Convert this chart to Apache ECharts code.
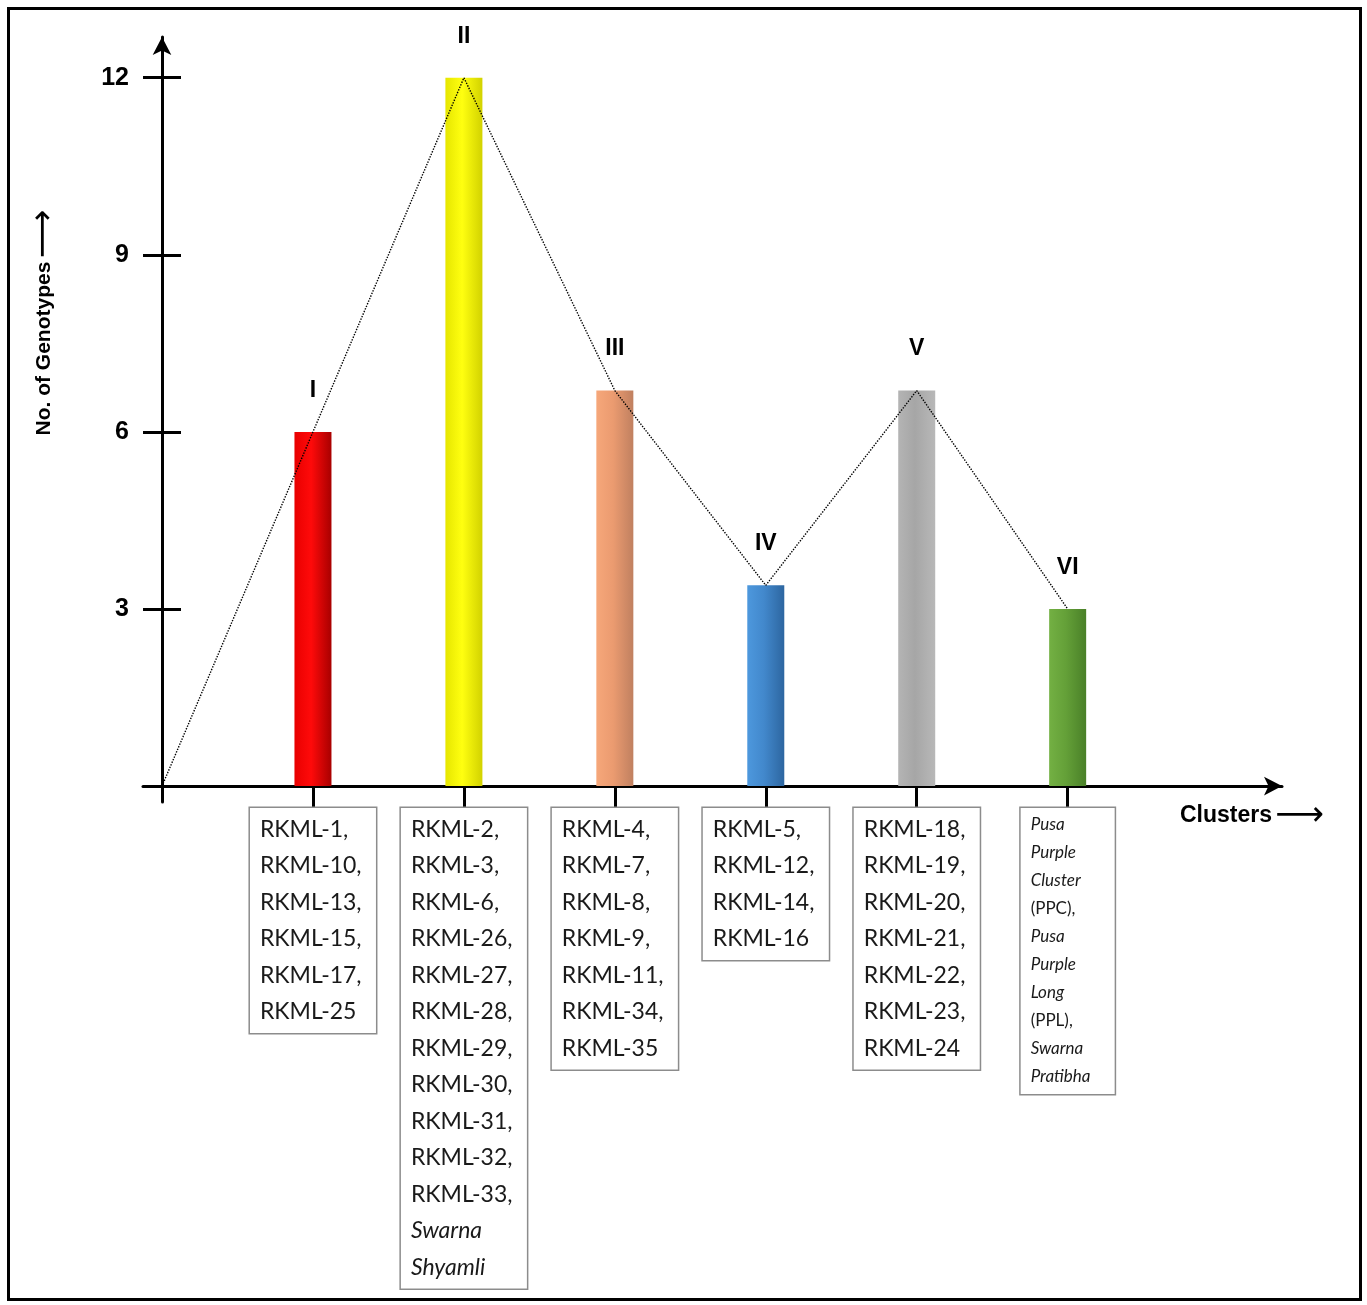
<!DOCTYPE html>
<html>
<head>
<meta charset="utf-8">
<script src="https://cdn.jsdelivr.net/npm/echarts@6/dist/echarts.min.js"></script>
<style>
  html, body { margin: 0; padding: 0; background: #fff; }
  #main { width: 1367px; height: 1305px; }
</style>
</head>
<body>
<div id="main"></div>
<script>
// clusters and number of genotypes in each
var clusters = ['I', 'II', 'III', 'IV', 'V', 'VI'];
var genotypes = [6, 12, 6.7, 3.4, 6.7, 3];
var yTicks = [3, 6, 9, 12];

// members listed under each cluster (one entry per printed line)
var membersI = ['RKML-1,', 'RKML-10,', 'RKML-13,', 'RKML-15,', 'RKML-17,', 'RKML-25'];
var membersII = ['RKML-2,', 'RKML-3,', 'RKML-6,', 'RKML-26,', 'RKML-27,', 'RKML-28,', 'RKML-29,',
  'RKML-30,', 'RKML-31,', 'RKML-32,', 'RKML-33,', 'Swarna', 'Shyamli'];
var membersIII = ['RKML-4,', 'RKML-7,', 'RKML-8,', 'RKML-9,', 'RKML-11,', 'RKML-34,', 'RKML-35'];
var membersIV = ['RKML-5,', 'RKML-12,', 'RKML-14,', 'RKML-16'];
var membersV = ['RKML-18,', 'RKML-19,', 'RKML-20,', 'RKML-21,', 'RKML-22,', 'RKML-23,', 'RKML-24'];
var membersVI = ['Pusa', 'Purple', 'Cluster', '(PPC),', 'Pusa', 'Purple', 'Long', '(PPL),', 'Swarna', 'Pratibha'];
var members = [membersI, membersII, membersIII, membersIV, membersV, membersVI];

// bar shading, left / middle / right
var barColors = [
  ['#e80000', '#ff0a0a', '#a80000'],
  ['#e6e600', '#ffff10', '#d2d200'],
  ['#f6a77a', '#eb9b70', '#c08060'],
  ['#4d98dd', '#4288cc', '#2d66a0'],
  ['#b4b4b4', '#a6a6a6', '#b8b8b8'],
  ['#73b043', '#64a038', '#4a8028']
];

function grad(c) {
  return new echarts.graphic.LinearGradient(0, 0, 1, 0, [
    { offset: 0, color: c[0] },
    { offset: 0.45, color: c[1] },
    { offset: 1, color: c[2] }
  ]);
}

// upright for codes and abbreviations, italic for variety names
function boxText(lines, small) {
  return lines.map(function (s) {
    var upright = /^RKML|^\(/.test(s);
    return '{' + (small ? 's' : 'n') + (upright ? 'r' : 'i') + '|' + s + '}';
  }).join('\n');
}

var boxFont = 'Lato, "Open Sans", sans-serif';
var boldFont = 'Arial, "Liberation Sans", sans-serif';

var myChart = echarts.init(document.getElementById('main'));

var barData = genotypes.map(function (v, i) {
  return { value: [i + 1, v], itemStyle: { color: grad(barColors[i]) } };
});
var lineData = [[0, 0]].concat(genotypes.map(function (v, i) { return [i + 1, v]; }));

myChart.setOption({
  animation: false,
  backgroundColor: '#fff',
  grid: {
    left: 143, right: 85, top: 37, bottom: 503,
    containLabel: false,
    outerBoundsMode: 'none'
  },
  graphic: [{
    type: 'rect',
    left: 6, top: 6,
    shape: { width: 1352, height: 1291 },
    style: { fill: 'none', stroke: '#000', lineWidth: 3 },
    z: -1
  }],
  xAxis: {
    type: 'value',
    min: -0.126,
    max: 7.42,
    splitLine: { show: false },
    axisLine: {
      onZero: true,
      symbol: ['none', 'arrow'],
      symbolSize: [14, 18],
      lineStyle: { color: '#000', width: 3 }
    },
    axisTick: {
      show: true,
      customValues: [1, 2, 3, 4, 5, 6],
      length: 21,
      lineStyle: { color: '#000', width: 3 }
    },
    axisLabel: {
      customValues: [1, 2, 3, 4, 5, 6],
      margin: 6,
      backgroundColor: '#fff',
      borderColor: '#8c8c8c',
      borderWidth: 1.5,
      formatter: function (v) {
        var idx = Math.round(v) - 1;
        return boxText(members[idx], idx === 5);
      },
      padding: [3, 12, 3, 10],
      rich: {
        nr: { fontFamily: boxFont, fontSize: 23, lineHeight: 36.5, width: 104, align: 'left', color: '#1a1a1a' },
        ni: { fontFamily: boxFont, fontSize: 23, lineHeight: 36.5, width: 104, align: 'left', color: '#1a1a1a', fontStyle: 'italic' },
        sr: { fontFamily: boxFont, fontSize: 17, lineHeight: 28, width: 72, align: 'left', color: '#1a1a1a' },
        si: { fontFamily: boxFont, fontSize: 17, lineHeight: 28, width: 72, align: 'left', color: '#1a1a1a', fontStyle: 'italic' }
      }
    },
    name: '{t|Clusters} {a|⟶}',
    nameLocation: 'end',
    nameGap: -102,
    nameMoveOverlap: false,
    nameTextStyle: {
      padding: [60, 0, 0, 0],
      rich: {
        t: { fontFamily: boldFont, fontWeight: 'bold', fontSize: 23, color: '#000' },
        a: { fontFamily: 'DejaVu Sans', fontSize: 34, color: '#000' }
      }
    }
  },
  yAxis: [{
    type: 'value',
    position: 'left',
    min: -0.27,
    max: 12.69,
    splitLine: { show: false },
    axisLine: {
      onZero: true,
      symbol: ['none', 'arrow'],
      symbolSize: [14, 18],
      lineStyle: { color: '#000', width: 3 }
    },
    axisTick: {
      show: true,
      customValues: yTicks,
      length: 19,
      lineStyle: { color: '#000', width: 3 }
    },
    axisLabel: {
      customValues: yTicks,
      margin: 14,
      fontFamily: boldFont,
      fontWeight: 'bold',
      fontSize: 25,
      color: '#000'
    },
    name: '{t|No. of Genotypes} {a|⟶}',
    nameLocation: 'middle',
    nameGap: 82,
    nameMoveOverlap: false,
    nameTextStyle: {
      padding: [0, 0, 0, 194],
      rich: {
        t: { fontFamily: boldFont, fontWeight: 'bold', fontSize: 21, color: '#000' },
        a: { fontFamily: 'DejaVu Sans', fontSize: 34, color: '#000' }
      }
    }
  }, {
    // inner half of the crossing ticks, shifted onto the main y axis
    type: 'value',
    position: 'left',
    offset: -19,
    min: -0.27,
    max: 12.69,
    splitLine: { show: false },
    axisLine: { show: false, onZero: false },
    axisTick: {
      show: true,
      inside: true,
      customValues: yTicks,
      length: 19,
      lineStyle: { color: '#000', width: 3 }
    },
    axisLabel: { show: false }
  }],
  series: [{
    type: 'bar',
    barWidth: 37,
    data: barData,
    label: {
      show: true,
      position: 'top',
      distance: 30,
      fontFamily: boldFont,
      fontWeight: 'bold',
      fontSize: 23,
      color: '#000',
      formatter: function (p) { return clusters[p.dataIndex]; }
    }
  }, {
    type: 'line',
    data: lineData,
    showSymbol: false,
    z: 5,
    lineStyle: { color: '#000', width: 1.4, type: 'dotted' }
  }]
});
</script>
</body>
</html>
